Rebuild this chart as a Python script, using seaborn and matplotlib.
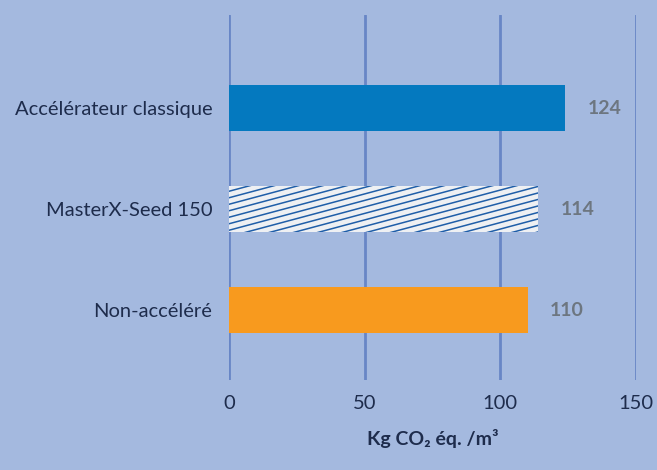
import pandas as pd
import numpy as np
from matplotlib import pyplot as plt
from matplotlib.lines import Line2D
import seaborn as sns

# data
categories = ["Accélérateur classique", "MasterX-Seed 150", "Non-accéléré"]
values = [124, 114, 110]
bar_colors = ["#0479bf", "#eef0f3", "#f89a1e"]
x_ticks = [0, 50, 100, 150]

bg = "#a4b9df"
grid_col = "#6886c6"
text_col = "#1e2c4c"

sns.set_style("white")
plt.rcParams["font.family"] = ["Lato", "DejaVu Sans"]

fig = plt.figure(figsize=(6.57, 4.70), dpi=100, facecolor=bg)
ax = fig.add_axes([0.3486, 0.1915, 0.6195, 0.7766], facecolor=bg)

df = pd.DataFrame({"cat": categories, "val": values})
sns.barplot(data=df, x="val", y="cat", hue="cat", palette=bar_colors,
            orient="h", width=0.45, legend=False, ax=ax, saturation=1,
            linewidth=0, edgecolor="none")

ax.set_xlim(0, 150)
ax.set_ylim(2.69, -0.92)
for t in x_ticks:
    ax.axvline(t, color=grid_col, lw=2, zorder=0)
ax.set_xticks(x_ticks)
for s in ax.spines.values():
    s.set_visible(False)
ax.tick_params(axis="both", length=0, labelsize=14.5, labelcolor=text_col)
ax.tick_params(axis="x", pad=11)
ax.tick_params(axis="y", pad=12)
ax.set_ylabel("")
ax.set_xlabel("Kg CO₂ éq. /m³", fontsize=14, fontweight="bold", color=text_col, labelpad=12)

# value labels
for i, v in enumerate(values):
    ax.text(v + 8.2, i, str(v), ha="left", va="center", fontsize=14,
            fontweight="bold", color="#6d7680")

# shallow diagonal hatching on the second bar, clipped to the bar
patch = ax.patches[1]
fig.canvas.draw()
bb = patch.get_window_extent()
px_x = ax.get_window_extent().width / 150.0
px_y = ax.get_window_extent().height / (2.69 + 0.92)
slope = np.tan(np.radians(15))
spacing = 6.5
offsets = np.arange(-bb.width * slope, bb.height + spacing, spacing)
y0 = patch.get_y() + patch.get_height()
for c in offsets:
    xs = np.array([0, bb.width])
    ys = c + slope * xs
    ln = Line2D(patch.get_x() + xs / px_x, y0 - ys / px_y, color="#1f5ea8", lw=1.1)
    ax.add_line(ln)
    ln.set_clip_path(patch)

fig.savefig("out.png", dpi=100, facecolor=bg)
